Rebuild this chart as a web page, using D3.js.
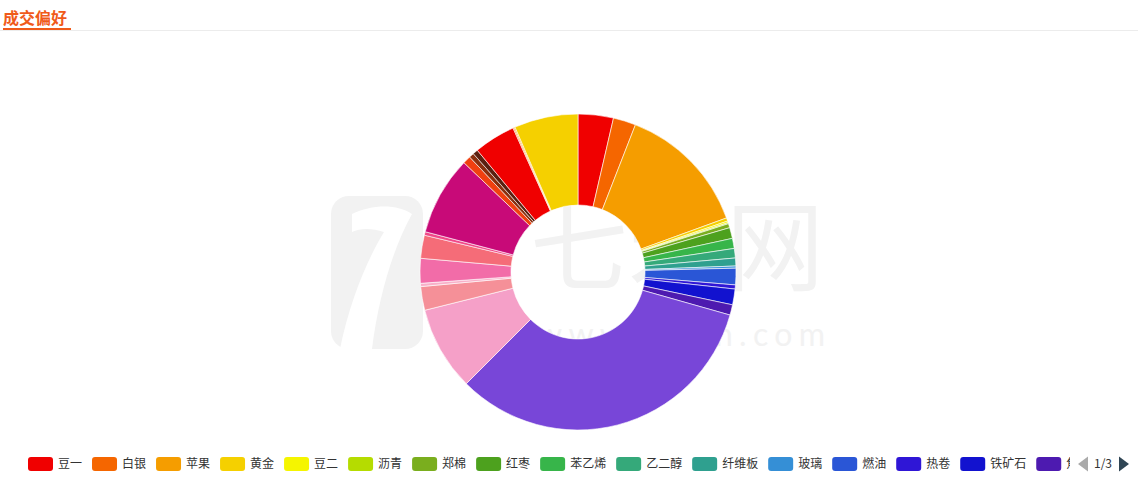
<!DOCTYPE html>
<html>
<head>
<meta charset="utf-8">
<script src="https://cdn.jsdelivr.net/npm/d3@7/dist/d3.min.js"></script>
<style>
  html, body { margin: 0; padding: 0; background: #fff; }
  svg { display: block; font-family: "Noto Sans CJK SC", "Noto Sans", sans-serif; }
</style>
</head>
<body>
<svg id="chart" width="1138" height="492"></svg>
<script>
// ---- data ----
const categories = ["豆一","白银","苹果","黄金","豆二","沥青","郑棉","红枣","苯乙烯","乙二醇","纤维板","玻璃","燃油","热卷","铁矿石","焦炭",
  "甲醇","棕榈油","豆粕","菜粕","白糖","玉米","橡胶","螺纹钢","沪铜","沪铝","沪锌","沪镍","原油","聚丙烯","PTA","塑料","尿素","纯碱"];
const values = [3.61,2.31,13.53,0.33,0.17,0.11,0.42,1.11,1.03,0.97,0.81,0.22,1.69,0.42,1.61,1.06,
  33.11,8.61,2.42,0.33,2.53,2.36,0.36,8.06,0.81,0.50,0.53,4.25,0.11,0.11,6.53,0,0,0];
const palette = ["#f00000","#f56600","#f59d00","#f5d000","#f5f500","#b5dc00","#7aae1e","#4da11e","#37b54a","#35a97a","#2fa08f","#358fd6","#2a56d6","#2f16d6","#1212cf","#4d1ab0",
  "#7846d8","#f5a0c8","#f59098","#f8b0c8","#f26ca8","#f56c78","#f04888","#c80a78","#f04010","#8a3010","#5a2010"];
const titleText = "成交偏好";
const watermarkTexts = ["七禾网", "www.7hcn.com"];
const legendPerPage = 16;

// ---- layout ----
const svg = d3.select("#chart");
const W = 1138, H = 492;
const cx = 578, cy = 272, rOuter = 158, rInner = 67;
const color = i => palette[i % palette.length];

// header
svg.append("line").attr("x1", 0).attr("x2", W).attr("y1", 30.5).attr("y2", 30.5)
  .attr("stroke", "#ececec").attr("stroke-width", 1);
svg.append("text").attr("x", 3).attr("y", 24).text(titleText)
  .attr("font-size", 16).attr("font-weight", "bold").attr("fill", "#f05a1a");
svg.append("rect").attr("x", 3).attr("y", 28).attr("width", 68).attr("height", 2).attr("fill", "#f05a1a");

// watermark
const wm = svg.append("g").attr("fill", "#f2f2f2");
wm.append("rect").attr("x", 331).attr("y", 196).attr("width", 92).attr("height", 153).attr("rx", 18);
wm.append("path").attr("d", "M352,214 C372,204 398,204 412,214 C392,250 378,300 372,349 L340,349 C350,300 368,258 384,232 C372,228 360,228 352,232 Z")
  .attr("fill", "#fff");
wm.append("text").attr("x", 530).attr("y", 283).text(watermarkTexts[0])
  .attr("font-size", 98).attr("font-family", "Noto Sans CJK SC");
wm.append("text").attr("x", 537).attr("y", 346).text(watermarkTexts[1])
  .attr("font-size", 32).attr("font-family", "Lato").attr("textLength", 288).attr("lengthAdjust", "spacing");

// pie
const data = categories.map((c, i) => ({ name: c, value: values[i], idx: i }));
const pie = d3.pie().value(d => d.value).sort(null).startAngle(0).endAngle(2 * Math.PI);
const arc = d3.arc().innerRadius(rInner).outerRadius(rOuter);
svg.append("g").attr("transform", `translate(${cx},${cy})`)
  .selectAll("path").data(pie(data).filter(d => d.data.value > 0)).join("path")
  .attr("d", arc)
  .attr("fill", d => color(d.data.idx))
  .attr("stroke", "#fff").attr("stroke-width", 0.6).attr("stroke-linejoin", "round");

// legend (scroll, page 1)
const legendY = 464, legendX0 = 28, clipRight = 1070;
const defs = svg.append("defs");
defs.append("clipPath").attr("id", "lgclip").append("rect")
  .attr("x", 0).attr("y", legendY - 12).attr("width", clipRight).attr("height", 24);
const lg = svg.append("g").attr("clip-path", "url(#lgclip)");
let x = legendX0;
data.slice(0, legendPerPage).forEach((d, i) => {
  const g = lg.append("g").attr("transform", `translate(${x},${legendY})`);
  g.append("rect").attr("x", 0).attr("y", -7).attr("width", 25).attr("height", 14).attr("rx", 3)
    .attr("fill", color(i));
  const t = g.append("text").attr("x", 30).attr("y", 0).attr("dy", "0.35em")
    .attr("font-size", 12).attr("fill", "#333").text(d.name);
  x += 30 + t.node().getComputedTextLength() + 10;
});
// pager
const pages = Math.ceil(categories.length / legendPerPage);
svg.append("path").attr("d", `M1088,${legendY - 7.5} L1078,${legendY} L1088,${legendY + 7.5} Z`).attr("fill", "#aaa");
svg.append("text").attr("x", 1103).attr("y", legendY).attr("dy", "0.35em").attr("text-anchor", "middle")
  .attr("font-size", 12).attr("fill", "#333").text(`1/${pages}`);
svg.append("path").attr("d", `M1119,${legendY - 7.5} L1129,${legendY} L1119,${legendY + 7.5} Z`).attr("fill", "#2f4554");
</script>
</body>
</html>
